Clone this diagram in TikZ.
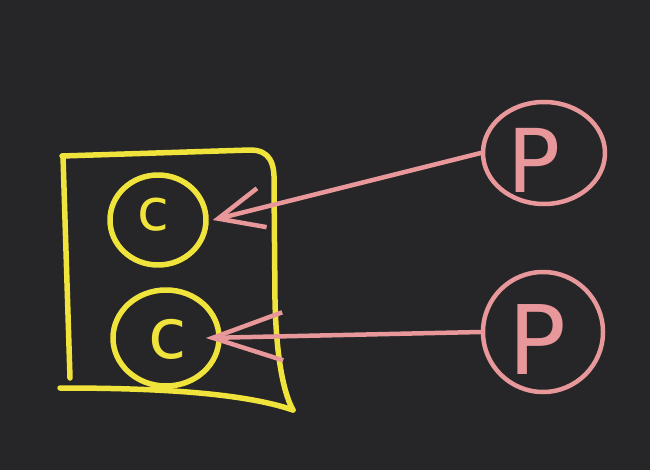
\documentclass[tikz,border=0pt]{standalone}
\usepackage{fontspec}
\setmainfont{DejaVu Sans}
\usetikzlibrary{arrows.meta,shapes.geometric}
\definecolor{bg}{HTML}{262527}
\definecolor{yel}{HTML}{F0E43C}
\definecolor{pnk}{HTML}{E8979A}
\begin{document}
\begin{tikzpicture}[x=1pt,y=-1pt, line cap=round, line join=round,
  ybox/.style={draw=yel, line width=5.5pt},
  yc/.style={ellipse, draw=yel, line width=5.5pt, inner sep=0pt},
  pc/.style={ellipse, draw=pnk, line width=4.5pt, inner sep=0pt},
  yltr/.style={text=yel, inner sep=0pt},
  pltr/.style={text=pnk, inner sep=0pt},
  conn/.style={draw=pnk, line width=4.5pt}]
\fill[bg] (0,0) rectangle (650,470);
\useasboundingbox (0,0) rectangle (650,470);
% box
\draw[ybox] (62,156) -- (250,150) .. controls (270,150) and (275,163) .. (274,185)
  -- (275,300) .. controls (276,350) and (282,390) .. (293,410);
\draw[ybox] (63,156) -- (70,378);
\draw[ybox] (60,388) .. controls (150,388) and (240,392) .. (293,410);
% circles
\node[yc, minimum width=96pt, minimum height=90pt] (c1) at (158,220) {};
\node[yc, minimum width=106pt, minimum height=96pt] (c2) at (166,338) {};
\node[pc, minimum width=122pt, minimum height=102pt] (p1) at (544,153) {};
\node[pc, minimum width=120pt, minimum height=120pt] (p2) at (543,332) {};
% letters
\node[yltr, font=\fontsize{58}{58}\selectfont] (lc1) at (153,215) {c};
\node[yltr, font=\fontsize{70}{70}\selectfont] (lc2) at (168,339) {c};
\node[pltr, font=\fontsize{88}{88}\selectfont] (lp1) at (534,160) {P};
\node[pltr, font=\fontsize{96}{96}\selectfont] (lp2) at (537,340) {P};
% connectors
\draw[conn, -{Straight Barb[length=45pt,width=40pt]}] (p1.west) -- ([xshift=4pt]c1.east);
\draw[conn, -{Straight Barb[length=70pt,width=48pt]}] (p2.west) -- ([xshift=-16pt]c2.east);
\end{tikzpicture}
\end{document}
